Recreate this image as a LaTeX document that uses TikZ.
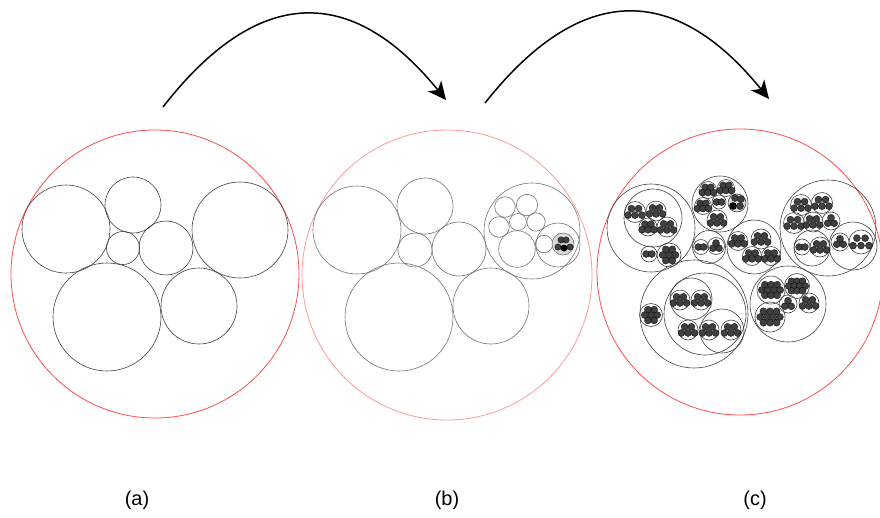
\documentclass[tikz,border=0pt]{standalone}
\usepackage{fontspec}
\setmainfont{Liberation Sans}
\usetikzlibrary{arrows.meta}

% grain patterns, given for a clump of radius 10
\def\pairgr{-3.6/0, 3.6/0}
\def\triogr{-3.6/2.5, 3.6/2.5, 0/-3.6}
\def\fivegr{-3.4/-3.2, 3.4/-3.2, -6.6/3, 0/3, 6.6/3}
\def\hexgr{0/0, 5.4/0, -5.4/0, 2.7/-4.7, -2.7/-4.7, 2.7/4.7, -2.7/4.7}
\def\biggr{-4.4/-3.8, 0/-3.8, 4.4/-3.8, -6.6/0, -2.2/0, 2.2/0, 6.6/0, -4.4/3.8, 0/3.8, 4.4/3.8}

\newcommand{\clump}[4]{%
  \draw[cell] (#1,#2) circle (#3);
  \foreach \dx/\dy in #4
    \filldraw[grain] (#1+\dx*#3/10, #2+\dy*#3/10) circle (3.5);
}

\tikzset{
  ring/.style={draw=red!70, line width=0.8pt},
  cell/.style={draw=black!75, line width=0.6pt},
  grain/.style={draw=black, fill=black!75, line width=0.3pt},
  flow/.style={-{Stealth[length=18pt,width=17pt,inset=5pt]}, line width=1.5pt},
  tag/.style={font=\fontsize{20}{24}\selectfont}
}

\begin{document}
\begin{tikzpicture}[x=1pt,y=-1pt]
  \useasboundingbox (0,0) rectangle (880,517);

  % (a)
  \draw[ring] (155,274) circle (144);
  \foreach \cx/\cy/\r in {66/229/44, 133/205/28, 123/248/16.5, 166/248/27,
      240/230/48, 107/317/54, 199/306/38}
    \draw[cell] (\cx,\cy) circle (\r);

  % (b)
  \draw[ring, draw=red!40] (447,275) circle (145);
  \foreach \cx/\cy/\r in {357/230/44, 425/206/28, 415/250/17, 459/249/27,
      532/231/48, 399/317/54, 491/306/38, 505/207/10.3, 527/205/10.7,
      499/227/10.3, 518/222/8.5, 536/222/9.2, 517/249/18.3, 558/245/22, 544/244/8.7}
    \draw[cell, draw=black!55] (\cx,\cy) circle (\r);
  \filldraw[cell, draw=black!55, fill=black!15] (563,244) circle (11);
  \foreach \gx/\gy in {561/240, 566/240, 558/247, 570/247}
    \filldraw[grain] (\gx,\gy) circle (3.2);
  \fill (564,248) circle (3.5);

  % (c)
  \draw[ring] (740,272) circle (143);
  \foreach \cx/\cy/\r in {651/228/44, 720/204/28, 709/247/16.5, 754/247/27,
      828/228/48, 694/314/54, 788/304/38, 653/218/29, 812/248/18, 853/246/24,
      705/314/41, 691/299/21, 722/331/22}
    \draw[cell] (\cx,\cy) circle (\r);

  \clump{635}{212}{10.5}{\fivegr}
  \clump{656}{211}{10}{\fivegr}
  \clump{648}{227}{9}{\fivegr}
  \clump{667}{227}{10}{\fivegr}
  \clump{649}{254}{8}{\pairgr}
  \clump{669}{255}{12}{\hexgr}

  \clump{708}{190}{8.5}{\fivegr}
  \clump{726}{188}{8.5}{\fivegr}
  \clump{703}{206}{8.5}{\fivegr}
  \clump{719}{202}{7}{\pairgr}
  \clump{717}{220}{10}{\fivegr}
  \filldraw[cell, fill=black!15] (737,203) circle (9);
  \foreach \gx/\gy in {735/198, 741/199, 740/206}
    \filldraw[grain] (\gx,\gy) circle (3.5);
  \fill (733,206) circle (3.8);

  \clump{701}{247}{7.5}{\pairgr}
  \clump{716}{246}{8.5}{\triogr}

  \clump{738}{241}{9.5}{\fivegr}
  \clump{761}{239}{10}{\fivegr}
  \clump{752}{256}{9.5}{\fivegr}
  \clump{771}{256}{9.5}{\fivegr}

  \clump{801}{205}{10.5}{\fivegr}
  \clump{822}{203}{10.5}{\fivegr}
  \clump{794}{223}{10.5}{\fivegr}
  \clump{813}{222}{10}{\fivegr}
  \clump{831}{221}{9}{\triogr}
  \clump{802}{247}{8}{\pairgr}
  \clump{820}{247}{10}{\fivegr}
  \clump{840}{242}{9}{\triogr}
  \clump{861}{242}{12}{\fivegr}

  \clump{680}{300}{10}{\fivegr}
  \clump{701}{300}{10}{\fivegr}
  \clump{688}{330}{10}{\fivegr}
  \clump{709}{330}{10}{\fivegr}
  \clump{731}{330}{10}{\fivegr}
  \clump{651}{315}{11.5}{\hexgr}

  \clump{771}{290}{14}{\biggr}
  \clump{797}{286}{12.5}{\biggr}
  \clump{788}{304}{9}{\triogr}
  \clump{809}{303}{10}{\fivegr}
  \clump{770}{317}{15}{\biggr}

  % arrows
  \coordinate (a-from) at (163,107);
  \coordinate (b-to) at (446,100);
  \coordinate (b-from) at (485,103);
  \coordinate (c-to) at (769,99);
  \draw[flow] (a-from) .. controls (257,-14) and (351,-17) .. (b-to);
  \draw[flow] (b-from) .. controls (580,-17) and (674,-18) .. (c-to);

  % labels
  \node[tag] (tag-a) at (137,500) {(a)};
  \node[tag] (tag-b) at (447,500) {(b)};
  \node[tag] (tag-c) at (755,500) {(c)};
\end{tikzpicture}
\end{document}
